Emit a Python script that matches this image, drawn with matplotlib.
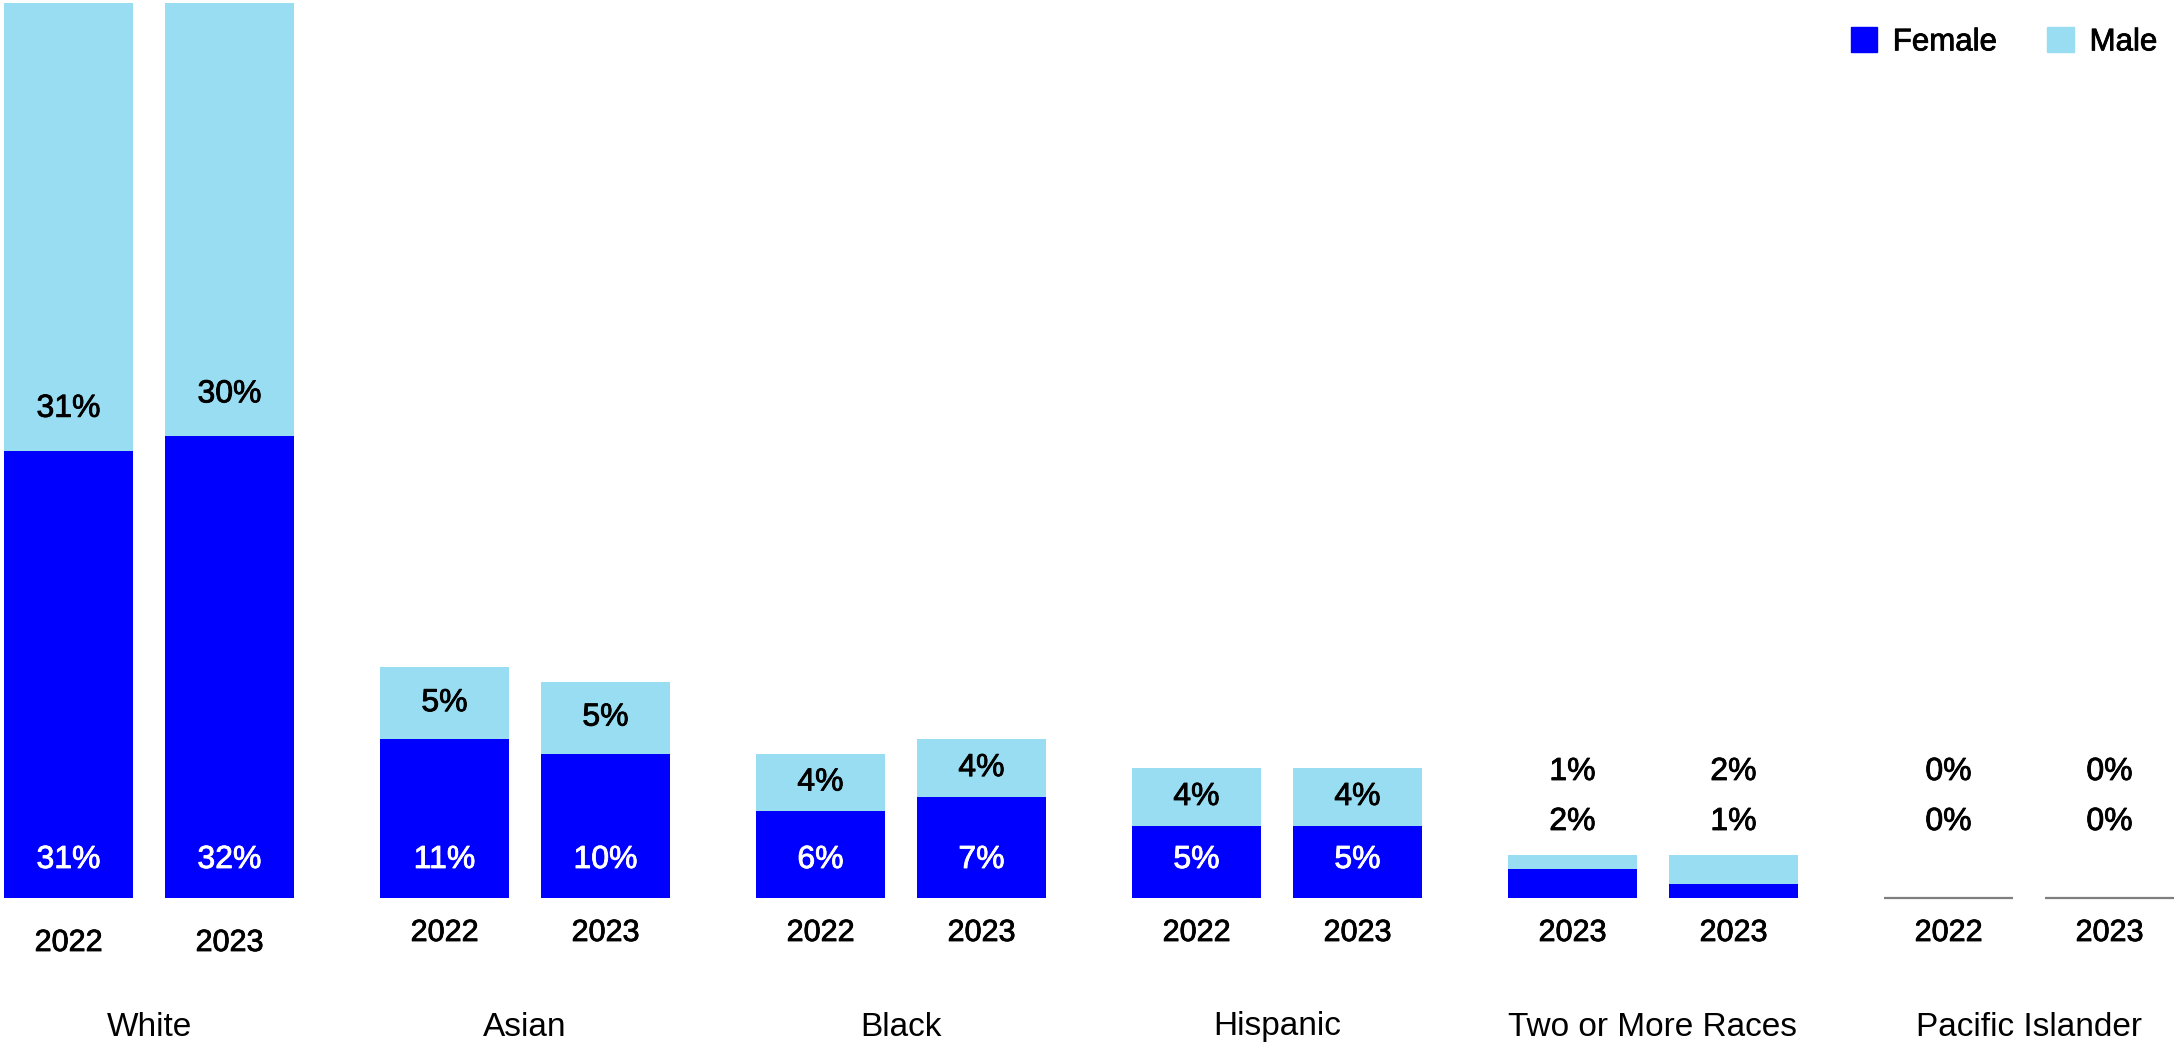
import matplotlib.pyplot as plt
import matplotlib.patheffects as pe
from matplotlib.patches import Patch

plt.rcParams['font.family'] = ['Liberation Sans', 'DejaVu Sans']

categories = ['White', 'Asian', 'Black', 'Hispanic', 'Two or More Races', 'Pacific Islander']
years = [['2022', '2023'], ['2022', '2023'], ['2022', '2023'],
         ['2022', '2023'], ['2023', '2023'], ['2022', '2023']]
female = [[31, 32], [11, 10], [6, 7], [5, 5], [2, 1], [0, 0]]
male = [[31, 30], [5, 5], [4, 4], [4, 4], [1, 2], [0, 0]]

FEMALE_COLOR = '#0000FF'
MALE_COLOR = '#98DDF1'

# layout in pixels (figure is 2174 x 1044)
W, H = 2174, 1044
BASE = 898          # bar baseline from top
PX = 14.43          # pixels per percent
BAR_W = 129
FIRST = 4
PITCH = 376
OFFSET = 161


def to_y(px_from_top):
    return (BASE - px_from_top) / PX


def medium(color):
    # fake a medium weight with a thin outline
    return [pe.withStroke(linewidth=0.6, foreground=color)]


fig = plt.figure(figsize=(W / 100, H / 100), dpi=100)
ax = fig.add_axes([0, 0, 1, 1])
ax.set_xlim(0, W)
ax.set_ylim(to_y(H), to_y(0))
ax.axis('off')

for g, cat in enumerate(categories):
    centers = []
    for j in range(2):
        x = FIRST + g * PITCH + j * OFFSET + BAR_W / 2
        centers.append(x)
        f = female[g][j]
        m = male[g][j]
        if f + m == 0:
            ax.hlines(0, x - BAR_W / 2, x + BAR_W / 2, color='#7f7f7f', lw=1.6)
        else:
            ax.bar(x, f, BAR_W, color=FEMALE_COLOR, linewidth=0)
            ax.bar(x, m, BAR_W, bottom=f, color=MALE_COLOR, linewidth=0)
        if f + m < 5:
            ax.text(x, to_y(822), '%d%%' % f, ha='center', va='center',
                    fontsize=23, path_effects=medium('black'))
            ax.text(x, to_y(772), '%d%%' % m, ha='center', va='center',
                    fontsize=23, path_effects=medium('black'))
        else:
            ax.text(x, to_y(860), '%d%%' % f, ha='center', va='center',
                    fontsize=23, color='white', path_effects=medium('white'))
            ax.text(x, f + min(m / 2, 2.9), '%d%%' % m, ha='center', va='center',
                    fontsize=23, path_effects=medium('black'))
        year_y = to_y(943) if g == 0 else to_y(933)
        ax.text(x, year_y, years[g][j], ha='center', va='center', fontsize=22,
                path_effects=medium('black'))
    ax.text(sum(centers) / 2, to_y(1027), cat, ha='center', va='center', fontsize=24)

handles = [Patch(color=FEMALE_COLOR, label='Female'),
           Patch(color=MALE_COLOR, label='Male')]
leg = fig.legend(handles=handles, loc='upper right', bbox_to_anchor=(1.004, 0.998),
                 ncol=2, frameon=False, fontsize=22.5, handlelength=0.85,
                 handleheight=0.85, handletextpad=0.5, columnspacing=1.6,
                 borderaxespad=0.4)
for t in leg.get_texts():
    t.set_path_effects(medium('black'))

fig.savefig('out.png', dpi=100)
